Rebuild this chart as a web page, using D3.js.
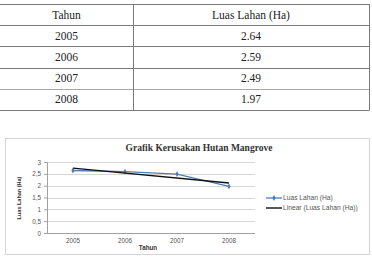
<!DOCTYPE html>
<html>
<head>
<meta charset="utf-8">
<script src="https://cdn.jsdelivr.net/npm/d3@7"></script>
<style>
  body { margin: 0; background: #fff; }
  svg { display: block; }
</style>
</head>
<body>
<svg width="372" height="260"></svg>
<script>
// data
const years = ["2005", "2006", "2007", "2008"]
const luasLahan = [2.64, 2.59, 2.49, 1.97]
const tableHead = ["Tahun", "Luas Lahan (Ha)"]
const tableValues = ["2.64", "2.59", "2.49", "1.97"]
// Excel trendline as drawn (start and end years)
const trendYears = ["2005", "2008"]
const trendValues = [2.74, 2.11]
const yTicks = [0, 0.5, 1, 1.5, 2, 2.5, 3]

let svg = d3.select("svg")

// ---- table ----
let tbl = svg.append("g")
let rowY = d3.scaleLinear().domain([0, 5]).range([4, 110])
let colX = [0, 133, 369]

for (let i = 0; i <= 5; i++) {
  tbl.append("line")
    .attr("x1", colX[0]).attr("x2", colX[2])
    .attr("y1", Math.round(rowY(i)) + 0.5).attr("y2", Math.round(rowY(i)) + 0.5)
    .attr("stroke", i == 4 ? "#a8a8a8" : "#7a7a7a")
}
;[1, 2].forEach(c => {
  tbl.append("line")
    .attr("x1", colX[c] + 0.5).attr("x2", colX[c] + 0.5)
    .attr("y1", rowY(0)).attr("y2", rowY(5) + 0.5)
    .attr("stroke", "#7a7a7a")
})

let rows = [tableHead].concat(years.map((y, i) => [y, tableValues[i]]))
rows.forEach((r, i) => {
  r.forEach((t, c) => {
    tbl.append("text")
      .attr("x", (colX[c] + colX[c + 1]) / 2)
      .attr("y", (rowY(i) + rowY(i + 1)) / 2 + 4)
      .attr("text-anchor", "middle")
      .attr("font-family", "Liberation Serif, Times New Roman, serif")
      .attr("font-size", 11.5)
      .attr("fill", "#222")
      .text(t)
  })
})

// ---- chart ----
svg.append("rect")
  .attr("x", 5.5).attr("y", 138.5)
  .attr("width", 364).attr("height", 116)
  .attr("fill", "none")
  .attr("stroke", "#d4d4d4")

svg.append("text")
  .attr("x", 199).attr("y", 151)
  .attr("text-anchor", "middle")
  .attr("font-family", "Liberation Serif, Times New Roman, serif")
  .attr("font-weight", "bold")
  .attr("font-size", 9.5)
  .attr("fill", "#333")
  .text("Grafik Kerusakan Hutan Mangrove")

let margin = {top: 162, left: 47}
let width = 208
let height = 71

let x = d3.scaleBand().domain(years).range([0, width])
let y = d3.scaleLinear().domain([0, 3]).range([height, 0])

let g = svg.append("g")
  .attr("transform", "translate(" + margin.left + "," + margin.top + ")")

// gridlines
g.selectAll(".grid")
  .data(yTicks)
  .enter().append("line")
  .attr("x1", 0).attr("x2", width)
  .attr("y1", d => Math.round(y(d)) + 0.5).attr("y2", d => Math.round(y(d)) + 0.5)
  .attr("stroke", d => d == 0 ? "#a0a0a0" : "#d6d6d6")

// y axis
let yAxis = g.append("g")
  .call(d3.axisLeft(y).tickValues(yTicks).tickSize(3).tickFormat(d => String(d).replace(".", ",")))
yAxis.select(".domain").attr("stroke", "#a0a0a0")
yAxis.selectAll(".tick line").attr("stroke", "#a0a0a0")
yAxis.selectAll("text")
  .attr("font-family", "Liberation Sans, Arial, sans-serif")
  .attr("font-size", 6.3)
  .attr("fill", "#555")
  .attr("x", -6)

// x axis
let xAxis = g.append("g")
  .attr("transform", "translate(0," + height + ")")
  .call(d3.axisBottom(x).tickSize(0))
xAxis.select(".domain").remove()
xAxis.selectAll("text")
  .attr("font-family", "Liberation Sans, Arial, sans-serif")
  .attr("font-size", 6.3)
  .attr("fill", "#555")
  .attr("dy", "0")
  .attr("y", 10)

// axis titles
svg.append("text")
  .attr("x", 148).attr("y", 250)
  .attr("text-anchor", "middle")
  .attr("font-family", "Liberation Sans, Arial, sans-serif")
  .attr("font-weight", "bold")
  .attr("font-size", 6.3)
  .attr("fill", "#333")
  .text("Tahun")

svg.append("text")
  .attr("transform", "translate(21,198) rotate(-90)")
  .attr("text-anchor", "middle")
  .attr("font-family", "Liberation Sans Narrow, Liberation Sans, Arial, sans-serif")
  .attr("font-weight", "bold")
  .attr("font-size", 5.5)
  .attr("fill", "#333")
  .text("Luas Lahan (Ha)")

// series line
let line = d3.line()
  .x((d, i) => x(years[i]) + x.bandwidth() / 2)
  .y(d => y(d))

g.append("path")
  .datum(luasLahan)
  .attr("d", line)
  .attr("fill", "none")
  .attr("stroke", "#4a7ebb")
  .attr("stroke-width", 1.3)

let diamond = d3.symbol().type(d3.symbolDiamond).size(10)
g.selectAll(".pt")
  .data(luasLahan)
  .enter().append("path")
  .attr("transform", (d, i) => "translate(" + (x(years[i]) + x.bandwidth() / 2) + "," + y(d) + ")")
  .attr("d", diamond)
  .attr("fill", "#4a7ebb")

// trendline
let trendLine = d3.line()
  .x((d, i) => x(trendYears[i]) + x.bandwidth() / 2)
  .y(d => y(d))

g.append("path")
  .datum(trendValues)
  .attr("d", trendLine)
  .attr("fill", "none")
  .attr("stroke", "#111")
  .attr("stroke-width", 1.4)

// legend
let legend = svg.append("g").attr("transform", "translate(266,198)")
legend.append("line")
  .attr("x1", 0).attr("x2", 16).attr("y1", 0).attr("y2", 0)
  .attr("stroke", "#4a7ebb").attr("stroke-width", 1.3)
legend.append("path")
  .attr("transform", "translate(8,0)")
  .attr("d", diamond)
  .attr("fill", "#4a7ebb")
legend.append("line")
  .attr("x1", 0).attr("x2", 16).attr("y1", 10).attr("y2", 10)
  .attr("stroke", "#111").attr("stroke-width", 1.4)

;["Luas Lahan (Ha)", "Linear (Luas Lahan (Ha))"].forEach((t, i) => {
  legend.append("text")
    .attr("x", 17).attr("y", i * 10 + 2.2)
    .attr("font-family", "Liberation Sans, Arial, sans-serif")
    .attr("font-size", 6.7)
    .attr("fill", "#555")
    .text(t)
})
</script>
</body>
</html>
